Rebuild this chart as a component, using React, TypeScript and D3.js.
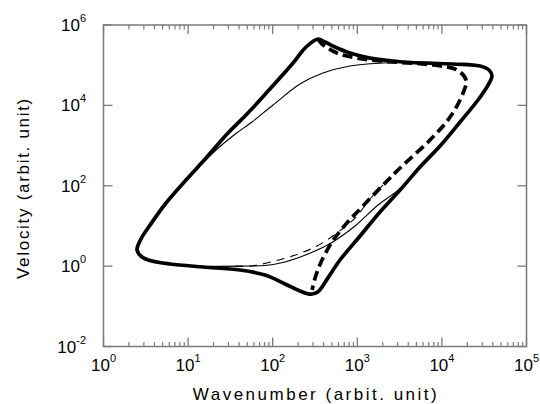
import React from "react";
import * as d3 from "d3";

// Thick solid loop: [wavenumber, velocity]
const thickSolid: [number, number][] = [
  [343, 4.48e5], [241, 2.67e5], [174, 1.13e5], [90.4, 2.41e4], [51, 6460],
  [29.6, 2050], [16.7, 519], [9.44, 139], [5.48, 37.2], [3.55, 10.5],
  [2.77, 4.73], [2.49, 2.52], [2.85, 1.69], [3.74, 1.34], [6.11, 1.13],
  [15, 0.95], [41, 0.8], [81, 0.6], [140, 0.36], [210, 0.24], [284, 0.2],
  [343, 0.23], [450, 0.51], [624, 1.42], [1077, 5.61], [1855, 22.2],
  [3200, 78], [5510, 292], [9500, 975], [16400, 3850], [26700, 13600],
  [35100, 32100], [39100, 53800], [36000, 75900], [28200, 95300],
  [13500, 107000], [3470, 120000], [1413, 150000], [820, 200000],
  [545, 283000], [415, 377000],
];

// Thick dashed branch
const thickDashed: [number, number][] = [
  [343, 4.48e5], [383, 3.36e5], [575, 2.01e5], [991, 1.51e5], [1855, 1.27e5],
  [7850, 1.01e5], [15100, 7.59e4], [19300, 4.28e4], [17800, 2.03e4],
  [12500, 5130], [7230, 1374], [3200, 276], [2014, 104], [1137, 29.6],
  [716, 10.5], [502, 3.98], [383, 1.42], [325, 0.6], [292, 0.255],
];

// Thin solid: upper and lower branches
const thinSolidUpper: [number, number][] = [
  [12.1, 233], [21.4, 775], [36.8, 1995], [56.9, 3855], [101, 10200],
  [210, 34000], [393, 63800], [820, 95300], [2014, 113000], [5510, 120000],
  [13500, 110000],
];
const thinSolidLower: [number, number][] = [
  [10.5, 0.98], [41, 1.0], [81, 1.04], [140, 1.27], [261, 2.0], [489, 3.76],
  [940, 9.95], [1757, 33.2], [3030, 78], [5510, 292],
];

// Thin dashed: lower branch
const thinDashed: [number, number][] = [
  [36, 1.0], [54, 1.0], [106, 1.34], [199, 2.0], [334, 3.16], [575, 6.67],
  [940, 15.7], [1413, 46.8], [2014, 104],
];

const xMajor = [1, 10, 100, 1000, 10000, 100000];
const xExp = [0, 1, 2, 3, 4, 5];
const yMajor = [1e-2, 1, 1e2, 1e4, 1e6];
const yExp = [-2, 0, 2, 4, 6];

export default function App() {
  const W = 540, H = 404;
  const left = 103.5, right = 526.5, top = 25, bottom = 346.5;
  const x = d3.scaleLog().domain([1, 1e5]).range([left, right]);
  const y = d3.scaleLog().domain([1e-2, 1e6]).range([bottom, top]);

  const line = d3.line<[number, number]>()
    .x(d => x(d[0]))
    .y(d => y(d[1]))
    .curve(d3.curveCatmullRom.alpha(0.5));
  const closedLine = d3.line<[number, number]>()
    .x(d => x(d[0]))
    .y(d => y(d[1]))
    .curve(d3.curveCatmullRomClosed.alpha(0.5));

  const minor: number[] = [];
  for (let e = 0; e < 5; e++) {
    for (let m = 2; m <= 9; m++) minor.push(m * Math.pow(10, e));
  }
  const axisColor = "#7a7a7a";
  const font = "'Liberation Sans', Arial, Helvetica, sans-serif";

  return (
    <svg width={W} height={H} style={{ position: "absolute", left: 0, top: 0, background: "#fff" }}
      fontFamily={font}>
      <rect x={0} y={0} width={W} height={H} fill="#fff" />
      {/* curves */}
      <path d={closedLine(thickSolid) || ""} fill="none" stroke="#000" strokeWidth={3.7} strokeLinejoin="round" />
      <path d={line(thickDashed) || ""} fill="none" stroke="#000" strokeWidth={3.7} strokeDasharray="10 5" />
      <path d={line(thinSolidUpper) || ""} fill="none" stroke="#000" strokeWidth={1.1} />
      <path d={line(thinSolidLower) || ""} fill="none" stroke="#000" strokeWidth={1.1} />
      <path d={line(thinDashed) || ""} fill="none" stroke="#000" strokeWidth={1.1} strokeDasharray="8 6" />

      {/* frame */}
      <rect x={left} y={top} width={right - left} height={bottom - top} fill="none" stroke={axisColor} strokeWidth={1.5} />
      {/* x ticks */}
      {xMajor.map((v, i) => (
        <g key={"xm" + i}>
          <line x1={x(v)} x2={x(v)} y1={bottom} y2={bottom - 9} stroke={axisColor} strokeWidth={1.3} />
          <line x1={x(v)} x2={x(v)} y1={top} y2={top + 9} stroke={axisColor} strokeWidth={1.3} />
          <text x={x(v)} y={371} textAnchor="middle" fontSize={17} fill="#000">
            10<tspan dy={-9} fontSize={11}>{xExp[i]}</tspan>
          </text>
        </g>
      ))}
      {minor.map((v, i) => (
        <g key={"xn" + i}>
          <line x1={x(v)} x2={x(v)} y1={bottom} y2={bottom - 4.5} stroke={axisColor} strokeWidth={1.2} />
          <line x1={x(v)} x2={x(v)} y1={top} y2={top + 4.5} stroke={axisColor} strokeWidth={1.2} />
        </g>
      ))}
      {/* y ticks */}
      {yMajor.map((v, i) => (
        <g key={"ym" + i}>
          <line x1={left} x2={left + 9} y1={y(v)} y2={y(v)} stroke={axisColor} strokeWidth={1.3} />
          <line x1={right} x2={right - 9} y1={y(v)} y2={y(v)} stroke={axisColor} strokeWidth={1.3} />
          <text x={86} y={y(v) + 6} textAnchor="end" fontSize={17} fill="#000">
            10<tspan dy={-9} fontSize={11}>{yExp[i]}</tspan>
          </text>
        </g>
      ))}
      {/* axis titles */}
      <text x={316} y={400} textAnchor="middle" fontSize={17} letterSpacing={2.5} fill="#000">
        Wavenumber (arbit. unit)
      </text>
      <text transform="translate(29,188) rotate(-90)" textAnchor="middle" fontSize={17} letterSpacing={1.7} fill="#000">
        Velocity (arbit. unit)
      </text>
    </svg>
  );
}
